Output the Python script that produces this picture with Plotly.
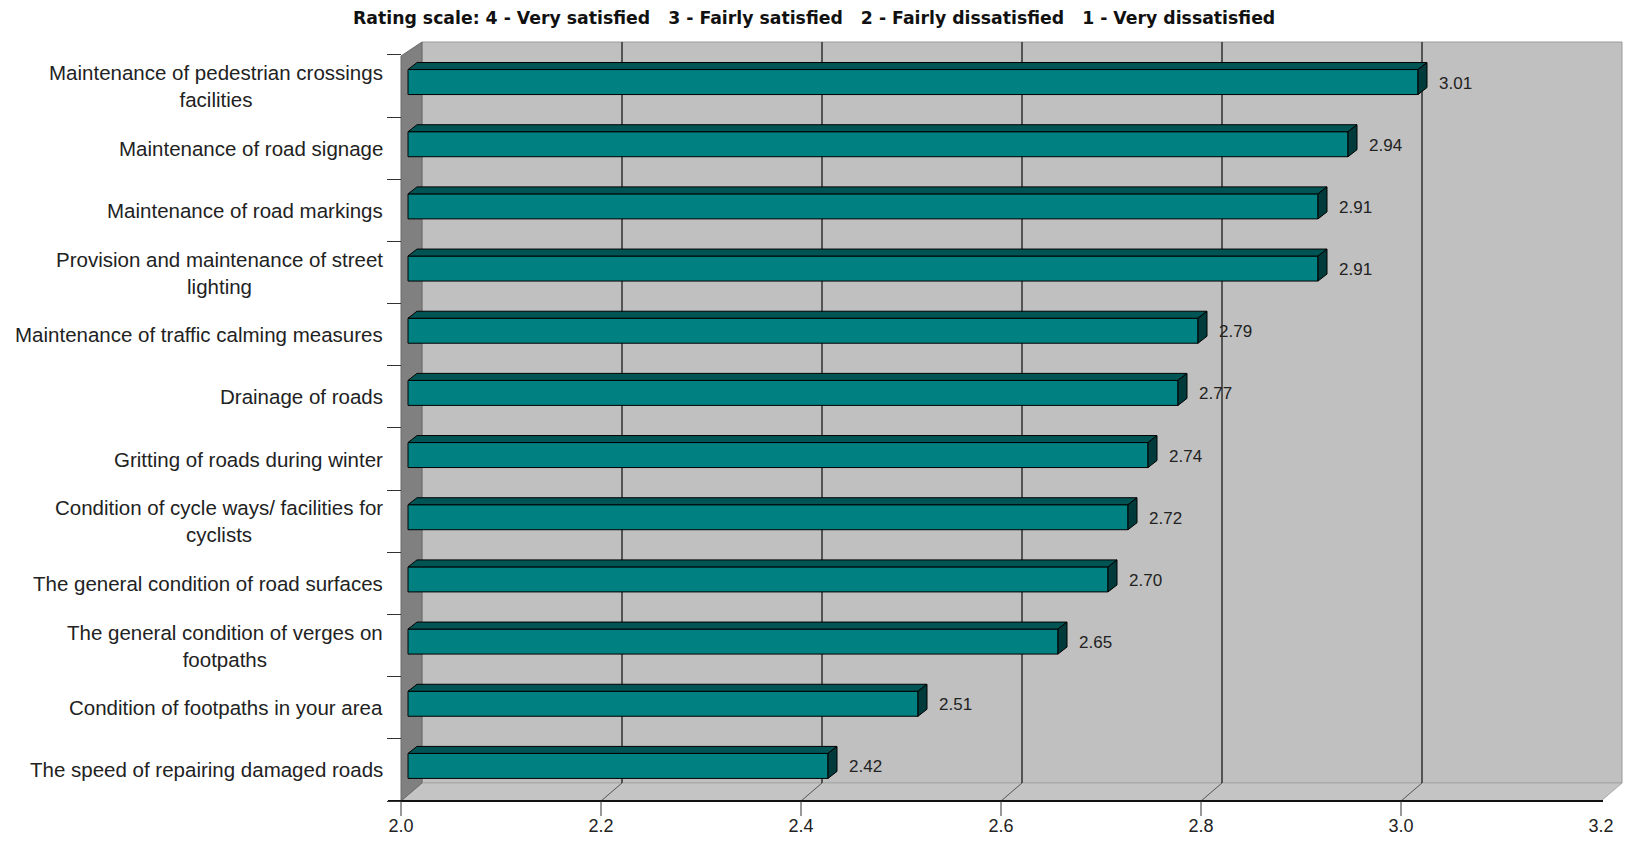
import plotly.graph_objects as go

# ---------------- data ----------------
categories = [
    "Maintenance of pedestrian crossings<br>facilities",
    "Maintenance of road signage",
    "Maintenance of road markings",
    "Provision and maintenance of street<br>lighting",
    "Maintenance of traffic calming measures",
    "Drainage of roads",
    "Gritting of roads during winter",
    "Condition of cycle ways/ facilities for<br>cyclists",
    "The general condition of road surfaces",
    "The general condition of verges on<br>footpaths",
    "Condition of footpaths in your area",
    "The speed of repairing damaged roads",
]
values = [3.01, 2.94, 2.91, 2.91, 2.79, 2.77, 2.74, 2.72, 2.70, 2.65, 2.51, 2.42]
value_labels = ["3.01", "2.94", "2.91", "2.91", "2.79", "2.77", "2.74", "2.72", "2.70", "2.65", "2.51", "2.42"]
x_ticks = [2.0, 2.2, 2.4, 2.6, 2.8, 3.0, 3.2]
x_tick_labels = ["2.0", "2.2", "2.4", "2.6", "2.8", "3.0", "3.2"]
title_text = ("Rating scale: 4 - Very satisfied\u00a0\u00a0 3 - Fairly satisfied\u00a0\u00a0 "
              "2 - Fairly dissatisfied\u00a0\u00a0 1 - Very dissatisfied")

# ---------------- geometry (pixel scale of the axes) ----------------
W, H = 1627, 842
PXX = 1000.0      # px per x unit
PXY = 62.17       # px per category
XMIN, XMAX = x_ticks[0], x_ticks[-1]
n = len(categories)
X0 = XMIN - 401 / PXX
X1 = X0 + W / PXX
YTOP = -0.5 + 801 / PXY
YBOT = -0.5 - 41 / PXY

def dx(p):
    return p / PXX

def dy(p):
    return p / PXY

# wall depth
DWX, DWY = dx(21), dy(18)
BACK_TOP = YTOP - dy(42)
FRONT_TOP = BACK_TOP - dy(14)
FLOOR = -0.5

# bar geometry
BDX, BDY = dx(7), dy(4)
BW = dy(25)
DDX, DDY = dx(9), dy(7)

ypos = [n - 1 - i for i in range(n)]

fig = go.Figure()
fig.add_trace(go.Bar(
    y=[y + BDY for y in ypos],
    x=[v - XMIN for v in values],
    base=[XMIN + BDX] * n,
    orientation="h",
    width=BW,
    marker=dict(color="#008080", line=dict(color="#000000", width=1)),
    hoverinfo="skip",
    showlegend=False,
))

shapes = []
# back wall
shapes.append(dict(type="rect", xref="x", yref="y", layer="below",
                   x0=XMIN + DWX, x1=XMAX + DWX, y0=FLOOR + DWY, y1=BACK_TOP,
                   fillcolor="#c0c0c0", line=dict(color="#9a9a9a", width=1)))
# floor
shapes.append(dict(type="path", xref="x", yref="y", layer="below",
                   path=f"M {XMIN},{FLOOR} L {XMIN + DWX},{FLOOR + DWY} L {XMAX + DWX},{FLOOR + DWY} L {XMAX},{FLOOR} Z",
                   fillcolor="#c4c4c4", line=dict(color="#a8a8a8", width=1)))
# left wall
shapes.append(dict(type="path", xref="x", yref="y", layer="below",
                   path=f"M {XMIN},{FLOOR} L {XMIN},{FRONT_TOP} L {XMIN + DWX},{BACK_TOP} L {XMIN + DWX},{FLOOR + DWY} Z",
                   fillcolor="#808080", line=dict(color="#6a6a6a", width=1)))
# grid lines on back wall and floor
for t in x_ticks[1:-1]:
    shapes.append(dict(type="line", xref="x", yref="y", layer="below",
                       x0=t + DWX, x1=t + DWX, y0=FLOOR + DWY, y1=BACK_TOP,
                       line=dict(color="#303030", width=1.5)))
    shapes.append(dict(type="line", xref="x", yref="y", layer="below",
                       x0=t, x1=t + DWX, y0=FLOOR, y1=FLOOR + DWY,
                       line=dict(color="#555555", width=1)))
# front axis line
shapes.append(dict(type="line", xref="x", yref="y", layer="below",
                   x0=XMIN - dx(13), x1=XMAX + dx(2), y0=FLOOR, y1=FLOOR,
                   line=dict(color="#111111", width=2)))
# x tick marks
for t in x_ticks[:-1]:
    shapes.append(dict(type="line", xref="x", yref="y", layer="below",
                       x0=t, x1=t, y0=FLOOR, y1=FLOOR - dy(15),
                       line=dict(color="#333333", width=1)))
# 3D faces of bars
for y, v in zip(ypos, values):
    xa = XMIN + BDX
    xb = v + BDX
    yt = y + BDY + BW / 2
    yb = y + BDY - BW / 2
    shapes.append(dict(type="path", xref="x", yref="y", layer="above",
                       path=f"M {xa},{yt} L {xa + DDX},{yt + DDY} L {xb + DDX},{yt + DDY} L {xb},{yt} Z",
                       fillcolor="#005454", line=dict(color="#000000", width=1)))
    shapes.append(dict(type="path", xref="x", yref="y", layer="above",
                       path=f"M {xb},{yb} L {xb},{yt} L {xb + DDX},{yt + DDY} L {xb + DDX},{yb + DDY} Z",
                       fillcolor="#003a3a", line=dict(color="#000000", width=1)))

annotations = []
for y, v, lab in zip(ypos, values, value_labels):
    annotations.append(dict(x=v + BDX + DDX + dx(10), y=y + BDY - dy(1), xref="x", yref="y",
                            text=lab, showarrow=False, xanchor="left", yanchor="middle",
                            font=dict(family="Liberation Sans, Arial", size=17, color="#222222")))
for y, c in zip(ypos, categories):
    annotations.append(dict(x=XMIN - dx(16), y=y, xref="x", yref="y",
                            text=c, showarrow=False, xanchor="right", yanchor="middle", align="center",
                            font=dict(family="Liberation Sans, Arial", size=20.5, color="#222222")))
annotations.append(dict(x=(814) / W, y=1 - 18 / H, xref="paper", yref="paper",
                        text=f"<b>{title_text}</b>", showarrow=False, xanchor="center", yanchor="middle",
                        font=dict(family="DejaVu Sans", size=17.3, color="#111111")))

fig.update_layout(
    width=W, height=H, autosize=False,
    margin=dict(l=0, r=0, t=0, b=0, pad=0),
    paper_bgcolor="white", plot_bgcolor="white",
    shapes=shapes, annotations=annotations,
    showlegend=False,
    xaxis=dict(range=[X0, X1], tickvals=x_ticks, ticktext=x_tick_labels,
               ticks="", showgrid=False, zeroline=False, showline=False,
               anchor="free", position=41 / H, ticklabelstandoff=12,
               tickfont=dict(family="Liberation Sans, Arial", size=18, color="#222222"),
               fixedrange=True),
    yaxis=dict(range=[YBOT, YTOP], tickvals=[k - 0.5 for k in range(n + 1)],
               ticks="outside", ticklen=14, tickcolor="#333333", tickwidth=1,
               showticklabels=False, showgrid=False, zeroline=False, showline=False,
               anchor="free", position=401 / W, fixedrange=True),
)

fig.write_html("out.html")
